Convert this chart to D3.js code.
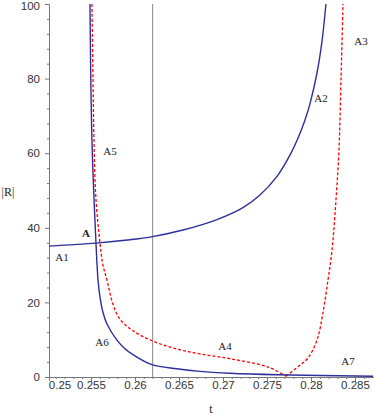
<!DOCTYPE html>
<html>
<head>
<meta charset="utf-8">
<script src="https://cdn.jsdelivr.net/npm/d3@7"></script>
<style>
  body { margin: 0; background: #fff; }
  .tick text { font-family: "Liberation Sans", Arial, sans-serif; font-size: 11.5px; fill: #333; }
  .lbl { font-family: "Liberation Serif", "Times New Roman", serif; font-size: 11px; fill: #222; }
</style>
</head>
<body>
<svg width="374" height="415"></svg>
<script>
// blue curve A1 -> A -> A2
const blueAT = [0.25023, 0.25557, 0.25943, 0.2617, 0.26545, 0.26932, 0.27227, 0.2742, 0.27614, 0.27761, 0.27852, 0.27932, 0.27989, 0.28068, 0.28125, 0.2817];
const blueAV = [35.1, 35.9, 36.8, 37.5, 39.4, 42.2, 45.4, 48.8, 53.8, 59.5, 64.0, 68.9, 73.3, 81.5, 90, 100];

// blue curve A5 side -> A6 -> A7
const blueBT = [0.25489, 0.25511, 0.25557, 0.2558, 0.25602, 0.25635, 0.25682, 0.25795, 0.25886, 0.25977, 0.26193, 0.26477, 0.26739, 0.2708, 0.27614, 0.28705];
const blueBV = [100, 63.5, 35.9, 26, 21.5, 17.5, 14.2, 9.9, 7.6, 6.0, 3.3, 2.2, 1.5, 1.0, 0.6, 0.2];

// red dashed, left branch (A5 -> A4) down to the minimum
const redLT = [0.25511, 0.25523, 0.25534, 0.25557, 0.25602, 0.25636, 0.25682, 0.2575, 0.2583, 0.25977, 0.26205, 0.26477, 0.26739, 0.2708, 0.27455, 0.2758, 0.27716];
const redLV = [100, 80, 63.5, 47.5, 36, 30, 26, 19.5, 15.5, 12.4, 9.6, 7.5, 6.2, 4.9, 3.1, 2.0, 0.2];

// red dashed, right branch (min -> A3)
const redRT = [0.27716, 0.27875, 0.27966, 0.28068, 0.28136, 0.28193, 0.28239, 0.28284, 0.28318, 0.28341, 0.28364];
const redRV = [0.2, 3.2, 5.1, 9.9, 17.2, 26, 34, 47.5, 60.9, 79.6, 100];

const xTicks = [0.25, 0.255, 0.26, 0.265, 0.27, 0.275, 0.28, 0.285];
const yTicks = [0, 20, 40, 60, 80, 100];
const markT = 0.262;

const labels = [
  {text: 'A1', t: 0.2517, v: 31.9},
  {text: 'A', t: 0.25443, v: 38.1, bold: true},
  {text: 'A5', t: 0.25716, v: 60.1},
  {text: 'A6', t: 0.25625, v: 9.1},
  {text: 'A4', t: 0.27023, v: 7.8},
  {text: 'A2', t: 0.28114, v: 74.3},
  {text: 'A3', t: 0.28568, v: 89.8},
  {text: 'A7', t: 0.2842, v: 4.0}
];

const svg = d3.select('svg');
const width = +svg.attr('width');
const height = +svg.attr('height');

const x = d3.scaleLinear().domain([0.25023, 0.28716]).range([49, 374]);
const y = d3.scaleLinear().domain([0, 100]).range([377, 4]);

svg.append('clipPath').attr('id', 'clip')
  .append('rect')
    .attr('x', 49).attr('y', 3)
    .attr('width', 325).attr('height', 375);

// axes
const yAxis = svg.append('g')
  .attr('transform', 'translate(49,0)')
  .call(d3.axisLeft(y).tickValues(yTicks).tickSize(4).tickPadding(5).tickFormat(d3.format('d')));

// top label would be clipped at the window edge
yAxis.selectAll('.tick').filter(d => d === 100).select('text').attr('y', 1.5);

svg.append('g')
  .attr('transform', 'translate(49,0)')
  .call(d3.axisLeft(y).tickValues(d3.range(0, 101, 4).filter(d => d % 20 !== 0)).tickSize(2).tickFormat(''))
  .call(g => g.select('.domain').remove());

const xAxis = svg.append('g')
  .attr('transform', 'translate(0,377)')
  .call(d3.axisBottom(x).tickValues(xTicks).tickSize(4).tickPadding(0).tickFormat(d3.format('~g')));

// 0.25 sits left of the y axis; push its label in like the original
xAxis.selectAll('.tick').filter(d => d === 0.25)
  .attr('transform', 'translate(60,0)')
  .select('line').remove();

svg.append('g')
  .attr('transform', 'translate(0,377)')
  .call(d3.axisBottom(x).tickValues(d3.range(251, 287).map(d => d / 1000)).tickSize(2).tickFormat(''))
  .call(g => g.select('.domain').remove());

svg.selectAll('.domain, .tick line').attr('stroke', '#777');

// vertical marker
svg.append('line')
  .attr('x1', x(markT)).attr('x2', x(markT))
  .attr('y1', y(0)).attr('y2', y(100))
  .attr('stroke', '#999').attr('stroke-width', 1.2);

const line = (ts, vs) => d3.line()
  .x(i => x(ts[i]))
  .y(i => y(vs[i]))
  .curve(d3.curveCatmullRom.alpha(0.5))(d3.range(ts.length));

const plot = svg.append('g').attr('clip-path', 'url(#clip)');

plot.append('path')
  .attr('d', line(redLT, redLV))
  .attr('fill', 'none').attr('stroke', '#f00').attr('stroke-width', 1.3)
  .attr('stroke-dasharray', '3,2');

plot.append('path')
  .attr('d', line(redRT, redRV))
  .attr('fill', 'none').attr('stroke', '#f00').attr('stroke-width', 1.3)
  .attr('stroke-dasharray', '3,2');

plot.append('path')
  .attr('d', line(blueAT, blueAV))
  .attr('fill', 'none').attr('stroke', '#2e2e9c').attr('stroke-width', 1.4);

plot.append('path')
  .attr('d', line(blueBT, blueBV))
  .attr('fill', 'none').attr('stroke', '#2e2e9c').attr('stroke-width', 1.4);

// curve labels
svg.selectAll('text.curve')
  .data(labels)
  .enter().append('text')
    .attr('class', 'lbl curve')
    .attr('x', d => x(d.t))
    .attr('y', d => y(d.v))
    .attr('text-anchor', 'middle')
    .attr('dominant-baseline', 'middle')
    .attr('font-weight', d => d.bold ? 'bold' : null)
    .text(d => d.text);

// axis titles
svg.append('text').attr('class', 'lbl')
  .attr('x', 8).attr('y', 193)
  .attr('text-anchor', 'middle').attr('dominant-baseline', 'middle')
  .style('font-size', '12px')
  .text('|R|');

svg.append('text').attr('class', 'lbl')
  .attr('x', 211).attr('y', 410)
  .attr('text-anchor', 'middle').attr('dominant-baseline', 'middle')
  .style('font-size', '12px')
  .text('t');
</script>
</body>
</html>
